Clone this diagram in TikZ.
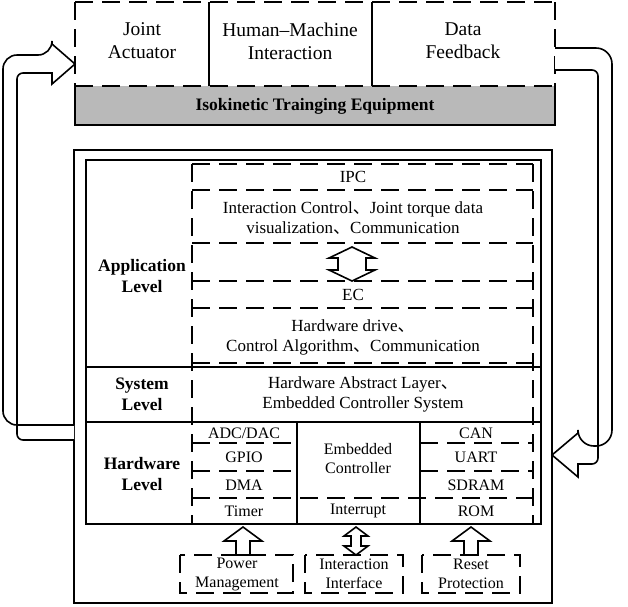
\documentclass[tikz,border=0pt]{standalone}
\usepackage{fontspec}
\setmainfont{Liberation Serif}
\newfontfamily\cjk{Noto Sans CJK SC}
\newcommand{\dun}{{\cjk 、}}
\begin{document}
\begin{tikzpicture}[x=1pt,y=-1pt,
  solidline/.style={draw=black,line width=1.6},
  dline/.style={draw=black,line width=1.8,dash pattern=on 18pt off 9pt},
  ttxt/.style={font=\fontsize{19.5}{23}\selectfont,align=center},
  txt/.style={font=\fontsize{17}{20}\selectfont,align=center},
  stxt/.style={font=\fontsize{16}{19}\selectfont,align=center},
  btxt/.style={font=\bfseries\fontsize{17.5}{21}\selectfont,align=center},
  hollow/.style={draw=black,line width=1.6,fill=white,line join=miter}]
\useasboundingbox (0,0) rectangle (628,606);
% top box
\fill[gray!55] (75,86) rectangle (555,125);
\draw[dline] (75,86) -- (555,86) (75,2) -- (555,2);
\draw[solidline] (75,86) -- (75,125) -- (555,125) -- (555,86);
\draw[dline] (75,2) -- (75,86) (555,2) -- (555,86);
\draw[solidline] (209,2) -- (209,86) (372,2) -- (372,86);
\node[ttxt] (ja) at (142,41) {Joint\\Actuator};
\node[ttxt] (hm) at (290,41) {Human--Machine\\Interaction};
\node[ttxt] (df) at (463,41) {Data\\Feedback};
\node[btxt] (ite) at (315,106) {Isokinetic Trainging Equipment};
% main box
\draw[solidline] (74,150) rectangle (552,603);
\draw[solidline] (86,160) rectangle (541,524);
\draw[solidline] (86,367) -- (541,367) (86,422) -- (541,422);
\draw[dline] (192,164) -- (192,524) (533,164) -- (533,524);
% IPC
\draw[dline] (192,164) -- (533,164) (192,190) -- (533,190) (192,243) -- (533,243);
\node[txt] (ipc) at (353,177) {IPC};
\node[txt] (ipcd) at (353,218) {Interaction Control\dun Joint torque data\\visualization\dun Communication};
\draw[dline] (192,281) -- (533,281) (192,308) -- (533,308) (192,363) -- (533,363);
\node[txt] (ec) at (353,295) {EC};
\node[txt] (ecd) at (353,337) {Hardware drive\dun\\Control Algorithm\dun Communication};
\draw[hollow] (352,247) -- (375,258) -- (366,258) -- (366,270) -- (375,270) -- (352,281) -- (329,270) -- (338,270) -- (338,258) -- (329,258) -- cycle;
\node[btxt] (al) at (142,276) {Application\\Level};
\node[btxt] (sl) at (142,394) {System\\Level};
\node[txt] (sld) at (363,394) {Hardware Abstract Layer\dun\\Embedded Controller System};
\node[btxt] (hl) at (142,474) {Hardware\\Level};
% hardware
\draw[solidline] (297,422) -- (297,524) (420,422) -- (420,524);
\draw[dline] (192,443) -- (297,443) (192,471) -- (297,471) (192,498) -- (533,498)
  (420,443) -- (533,443) (420,471) -- (533,471);
\node[stxt] (adc) at (244,433) {ADC/DAC};
\node[stxt] (gpio) at (244,457) {GPIO};
\node[stxt] (dma) at (244,485) {DMA};
\node[stxt] (tim) at (244,511) {Timer};
\node[stxt] (emb) at (358,459) {Embedded\\Controller};
\node[stxt] (irq) at (358,511) {Interrupt};
\node[stxt] (can) at (476,433) {CAN};
\node[stxt] (uart) at (476,457) {UART};
\node[stxt] (sdr) at (476,485) {SDRAM};
\node[stxt] (rom) at (476,511) {ROM};
% bottom boxes
\draw[dline] (180,555) rectangle (293,593) (305,555) rectangle (403,593) (422,555) rectangle (520,593);
\node[stxt] (pm) at (237,574) {Power\\Management};
\node[stxt] (ii) at (354,574) {Interaction\\Interface};
\node[stxt] (rp) at (471,574) {Reset\\Protection};
\draw[hollow] (243,527) -- (262,541) -- (250,541) -- (250,555) -- (236,555) -- (236,541) -- (224,541) -- cycle;
\draw[hollow] (471,527) -- (490,541) -- (478,541) -- (478,555) -- (464,555) -- (464,541) -- (452,541) -- cycle;
\draw[hollow] (356,527) -- (368,536) -- (361,536) -- (361,546) -- (368,546) -- (356,555) -- (344,546) -- (351,546) -- (351,536) -- (344,536) -- cycle;
% loop arrows
\coordinate (lt) at (75,64);
\coordinate (rt) at (552,455);
\draw[hollow,rounded corners=14] (74,425) -- (3,425) -- (3,55) -- (52,55) [sharp corners]-- (52,44) -- (lt) -- (52,84) -- (52,73) [rounded corners=6]-- (17,73) -- (17,440) -- (74,440);
\draw[hollow,rounded corners=16] (555,48) -- (612,48) -- (612,446) -- (578,446) [sharp corners]-- (578,433) -- (rt) -- (578,477) -- (578,464) [rounded corners=6]-- (598,464) -- (598,70) -- (555,70);
\end{tikzpicture}
\end{document}
